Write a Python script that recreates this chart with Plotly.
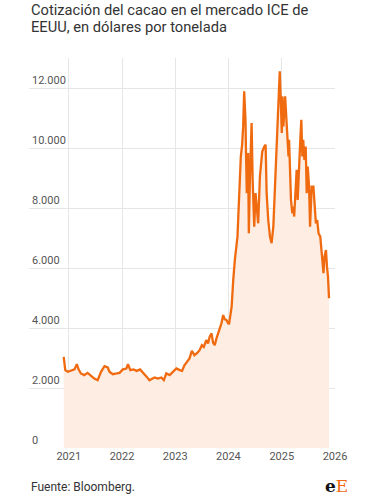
import plotly.graph_objects as go

# Cocoa price (ICE US), USD per tonne
dates = [
    "2020-11-27", "2020-12-08", "2020-12-25", "2021-01-17", "2021-02-09", "2021-02-25",
    "2021-03-09", "2021-03-25", "2021-04-17", "2021-05-10", "2021-06-02", "2021-06-25",
    "2021-07-18", "2021-08-10", "2021-09-03", "2021-09-25", "2021-10-07", "2021-10-30",
    "2021-11-27", "2021-12-15", "2022-01-07", "2022-01-31", "2022-02-11", "2022-02-27",
    "2022-03-20", "2022-04-12", "2022-05-05", "2022-05-28", "2022-06-20", "2022-07-08",
    "2022-07-20", "2022-08-12", "2022-09-04", "2022-09-28", "2022-10-15", "2022-11-01",
    "2022-11-24", "2022-12-16", "2023-01-09", "2023-02-01", "2023-02-17", "2023-03-05",
    "2023-03-24", "2023-04-09", "2023-04-25", "2023-05-13", "2023-06-01", "2023-06-17",
    "2023-07-03", "2023-07-16", "2023-08-02", "2023-08-14", "2023-08-25", "2023-09-07",
    "2023-09-18", "2023-09-29", "2023-10-11", "2023-10-22", "2023-11-03", "2023-11-14",
    "2023-11-26", "2023-12-07", "2023-12-19", "2023-12-30", "2024-01-06", "2024-01-23",
    "2024-02-03", "2024-02-14", "2024-03-03", "2024-03-12", "2024-03-19", "2024-03-26",
    "2024-04-04", "2024-04-11", "2024-04-18", "2024-04-27", "2024-05-01", "2024-05-06",
    "2024-05-15", "2024-05-20", "2024-05-27", "2024-06-03", "2024-06-08", "2024-06-15",
    "2024-06-26", "2024-07-05", "2024-07-14", "2024-07-23", "2024-08-04", "2024-08-20",
    "2024-09-03", "2024-09-12", "2024-09-19", "2024-09-30", "2024-10-12", "2024-10-23",
    "2024-11-04", "2024-11-16", "2024-11-27", "2024-12-08", "2024-12-18", "2024-12-25",
    "2025-01-01", "2025-01-05", "2025-01-12", "2025-01-24", "2025-01-31", "2025-02-09",
    "2025-02-16", "2025-02-20", "2025-02-27", "2025-03-05", "2025-03-14", "2025-03-20",
    "2025-03-27", "2025-04-06", "2025-04-13", "2025-04-20", "2025-04-29", "2025-05-08",
    "2025-05-15", "2025-05-22", "2025-05-28", "2025-06-05", "2025-06-14", "2025-06-21",
    "2025-06-28", "2025-07-07", "2025-07-14", "2025-07-25", "2025-08-06", "2025-08-13",
    "2025-08-23", "2025-09-01", "2025-09-10", "2025-09-22", "2025-10-03", "2025-10-14",
    "2025-10-21", "2025-10-31", "2025-11-07", "2025-11-14", "2025-11-21",
]
prices = [
    3040, 2595, 2540, 2570, 2620, 2795,
    2620, 2485, 2430, 2505, 2395, 2315,
    2260, 2540, 2730, 2685, 2540, 2460,
    2485, 2505, 2620, 2650, 2795, 2595,
    2620, 2570, 2620, 2505, 2370, 2260,
    2285, 2350, 2315, 2350, 2260, 2485,
    2430, 2540, 2650, 2595, 2570, 2760,
    2870, 2985, 3240, 3095, 3170, 3260,
    3430, 3370, 3595, 3485, 3705, 3820,
    3505, 3430, 3655, 3820, 3955, 4155,
    4430, 4290, 4265, 4155, 4150, 4710,
    5600, 6270, 7045, 8050, 8940, 9715,
    10110, 10720, 11890, 10940, 9715, 8495,
    9830, 7160, 8940, 9885, 10830, 8940,
    7380, 8495, 8050, 7490, 9050, 9885,
    10050, 10110, 8495, 7600, 7045, 6825,
    7380, 8715, 9715, 11275, 12555, 11610,
    10500, 11720, 10720, 11720, 11165, 10385,
    9715, 10275, 9050, 8270, 7825, 8050,
    7715, 8495, 9275, 8270, 9605, 10275,
    10940, 9715, 10275, 9605, 10050, 8495,
    9385, 8715, 7380, 8715, 8715, 8050,
    7490, 7600, 7160, 7045, 6270, 5825,
    6380, 6600, 6045, 5710, 4990,
]

title_lines = ["Cotización del cacao en el mercado ICE de", "EEUU, en dólares por tonelada"]
source_text = "Fuente: Bloomberg."

y_tickvals = [0, 2000, 4000, 6000, 8000, 10000, 12000]
y_ticktext = ["0", "2.000", "4.000", "6.000", "8.000", "10.000", "12.000"]
x_tickvals = ["2021-01-01", "2022-01-01", "2023-01-01", "2024-01-01", "2025-01-01", "2026-01-01"]
x_ticktext = ["2021", "2022", "2023", "2024", "2025", "2026"]

LINE = "#F06A0F"
FILL = "#FDEDE3"
TXT = "#333333"
TICK = "#555555"
GRID = "#E6E6E6"

fig = go.Figure()
fig.add_trace(go.Scatter(
    x=dates, y=prices, mode="lines",
    line=dict(color=LINE, width=2.3),
    fill="tozeroy", fillcolor=FILL,
    hoverinfo="skip", showlegend=False,
))

fig.update_layout(
    width=381, height=500,
    margin=dict(l=29, r=46, t=58, b=52),
    paper_bgcolor="white", plot_bgcolor="white",
    font=dict(family="Roboto", color=TXT),
    xaxis=dict(
        range=["2020-04-03", "2026-01-01"],
        tickvals=x_tickvals, ticktext=x_ticktext,
        showgrid=True, gridcolor=GRID, gridwidth=1,
        zeroline=False, showline=False, ticks="",
        tickfont=dict(size=11, color=TICK),
    ),
    yaxis=dict(
        range=[0, 13000],
        tickvals=y_tickvals, ticktext=y_ticktext,
        ticklabelposition="inside top",
        showgrid=True, gridcolor=GRID, gridwidth=1,
        zeroline=False, showline=False, ticks="",
        tickfont=dict(size=11, color=TICK),
    ),
    annotations=[
        dict(text=title_lines[0], xref="paper", yref="paper",
             x=0, y=1.123, xanchor="left", yanchor="middle", showarrow=False,
             font=dict(size=14.7, color=TXT, family="Roboto")),
        dict(text=title_lines[1], xref="paper", yref="paper",
             x=0, y=1.0795, xanchor="left", yanchor="middle", showarrow=False,
             font=dict(size=14.7, color=TXT, family="Roboto")),
        dict(text=source_text, xref="paper", yref="paper",
             x=0, y=-0.1, xanchor="left", yanchor="middle",
             showarrow=False, font=dict(size=12, color=TXT, family="Roboto")),
        dict(text="<b>e</b><span style='color:%s'>E</span>" % LINE,
             xref="paper", yref="paper", x=1.05, y=-0.097,
             xanchor="right", yanchor="middle", showarrow=False,
             font=dict(size=17, color="#111111", family="DejaVu Serif")),
    ],
)

fig.write_html("out.html")
